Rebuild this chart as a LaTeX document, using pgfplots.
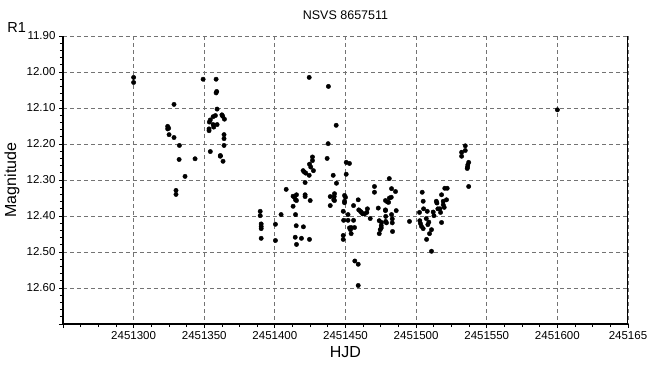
\documentclass[border=0pt]{standalone}
\usepackage{fontspec}
\setmainfont{Liberation Sans}
\usepackage{pgfplots}
\pgfplotsset{compat=1.18}
% HJD values stored as HJD - 2451000
\pgfplotstableread{
x y
300.0 12.015
300.0 12.029
349.2 12.020
358.4 12.020
358.8 12.054
358.4 12.058
328.6 12.090
359.1 12.103
357.9 12.121
356.3 12.124
354.3 12.133
353.6 12.139
359.1 12.146
356.3 12.146
356.7 12.153
362.5 12.119
363.1 12.123
364.3 12.131
353.4 12.158
353.4 12.163
324.1 12.151
324.8 12.156
324.1 12.158
325.1 12.174
328.6 12.182
332.4 12.204
364.0 12.174
364.0 12.185
364.0 12.204
354.3 12.221
361.4 12.232
361.4 12.234
363.3 12.248
343.5 12.241
332.2 12.243
336.4 12.290
330.0 12.329
330.0 12.340
424.3 12.015
437.9 12.040
443.4 12.148
437.7 12.199
437.0 12.240
426.6 12.236
426.6 12.246
424.5 12.256
425.4 12.264
420.0 12.274
420.9 12.278
421.9 12.281
427.3 12.274
424.3 12.287
421.4 12.307
441.3 12.287
443.6 12.309
450.5 12.251
452.8 12.254
450.5 12.284
408.0 12.326
412.9 12.345
413.9 12.348
414.6 12.355
415.3 12.341
415.3 12.357
412.9 12.373
421.4 12.341
421.4 12.346
425.0 12.357
439.2 12.346
442.2 12.338
442.0 12.346
441.7 12.355
442.2 12.357
439.2 12.371
449.3 12.343
450.0 12.348
449.3 12.359
449.3 12.363
448.4 12.387
389.6 12.387
389.6 12.399
404.4 12.396
414.6 12.396
390.3 12.422
390.3 12.429
390.3 12.435
400.4 12.423
415.1 12.427
420.2 12.430
448.7 12.412
451.8 12.412
451.8 12.396
452.8 12.433
390.3 12.462
400.4 12.468
414.4 12.459
418.8 12.462
424.5 12.465
415.3 12.479
448.4 12.454
448.4 12.465
456.6 12.525
459.0 12.534
459.0 12.593
481.0 12.296
470.5 12.318
470.5 12.334
482.6 12.324
485.4 12.332
459.0 12.355
478.3 12.357
479.7 12.361
481.1 12.350
482.4 12.348
480.5 12.362
455.7 12.371
459.4 12.383
460.6 12.387
461.3 12.390
465.5 12.380
465.1 12.390
463.5 12.394
462.2 12.394
473.2 12.378
478.3 12.383
478.3 12.385
485.9 12.385
455.7 12.412
454.0 12.432
456.4 12.432
453.5 12.438
454.0 12.449
467.5 12.407
473.9 12.413
475.5 12.418
475.3 12.427
475.3 12.433
474.6 12.438
473.9 12.449
478.5 12.401
478.5 12.415
479.0 12.419
482.6 12.396
483.1 12.408
483.1 12.419
483.3 12.443
495.3 12.415
502.4 12.390
502.6 12.413
503.1 12.421
503.8 12.429
505.0 12.435
504.3 12.334
505.0 12.359
505.3 12.380
507.9 12.387
507.2 12.407
509.0 12.417
508.3 12.424
510.9 12.438
509.5 12.449
507.4 12.465
510.9 12.498
512.1 12.389
512.6 12.399
514.3 12.359
514.7 12.364
515.4 12.380
516.8 12.380
517.3 12.390
518.0 12.418
518.0 12.341
519.2 12.359
519.2 12.369
519.9 12.376
520.3 12.323
522.0 12.323
521.5 12.355
534.8 12.205
534.8 12.218
532.2 12.223
532.2 12.234
537.2 12.251
536.6 12.258
536.4 12.264
536.2 12.268
537.2 12.318
600.0 12.105
}\lightcurve
\begin{document}
\begin{tikzpicture}
\path[use as bounding box] (-63pt,-48pt) rectangle (594pt,324pt);
\begin{axis}[
  at={(0pt,0pt)}, anchor=south west,
  scale only axis, width=565pt, height=288pt,
  xmin=250, xmax=650, ymin=11.9, ymax=12.7, y dir=reverse,
  axis x line*=bottom, axis y line*=left,
  axis line style={line width=2pt, black},
  xtick={250,300,350,400,450,500,550,600,650},
  xticklabels={,2451300,2451350,2451400,2451450,2451500,2451550,2451600,245165},
  ytick={11.9,12.0,12.1,12.2,12.3,12.4,12.5,12.6,12.7},
  yticklabels={11.90,12.00,12.10,12.20,12.30,12.40,12.50,12.60,},
  minor x tick num=3, minor y tick num=4,
  tick align=outside,
  major tick length=4pt, minor tick length=3pt,
  tick style={black, line width=0.8pt},
  grid=major,
  major grid style={black!55, dash pattern=on 4pt off 3pt, line width=0.9pt},
  ticklabel style={font=\fontsize{11.5}{13}\selectfont},
  xlabel={HJD}, ylabel={Magnitude},
  xlabel style={at={(axis description cs:0.5,0)}, anchor=center, yshift=-28.5pt, font=\fontsize{16}{18}\selectfont},
  ylabel style={at={(axis description cs:-0.0903,0.5)}, anchor=center, font=\fontsize{16}{18}\selectfont},
  title={NSVS 8657511},
  title style={at={(axis description cs:0.5,1)}, anchor=center, yshift=15pt, font=\fontsize{12.5}{14}\selectfont},
  clip=false,
]
\addplot[only marks, mark=*, mark size=2.2pt, black] table[x=x, y=y] {\lightcurve};
\draw[black, line width=1pt] (rel axis cs:1,0) -- (rel axis cs:1,1);
\end{axis}
\node[font=\fontsize{14.5}{16}\selectfont] at (-46.3pt,296.5pt) {R1};
\end{tikzpicture}
\end{document}
